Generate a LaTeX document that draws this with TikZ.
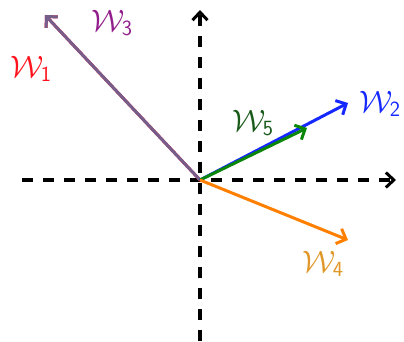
\RequirePackage{fix-cm}
\documentclass[tikz,border=0pt]{standalone}
\usetikzlibrary{arrows.meta}
\definecolor{wred}{RGB}{255,20,30}
\definecolor{wpurpleline}{RGB}{118,94,140}
\definecolor{wpurple}{RGB}{145,30,140}
\definecolor{wblue}{RGB}{20,40,255}
\definecolor{wgreen}{RGB}{10,135,10}
\definecolor{wdgreen}{RGB}{25,90,25}
\definecolor{worange}{RGB}{255,128,0}
\definecolor{wlorange}{RGB}{225,150,40}
\tikzset{
  axisline/.style={line width=3.2pt, dash pattern=on 11pt off 10pt, -{Straight Barb[length=8pt,width=15pt,line width=3pt]}},
  vec/.style={line width=3pt, -{Straight Barb[length=8pt,width=16pt]}},
  lab/.style={font=\fontsize{31}{34}\selectfont, inner sep=0pt}
}
\newcommand{\wsub}[1]{\mathcal{W}_{\scriptstyle\mathsf{#1}}}
\begin{document}
\begin{tikzpicture}[x=1pt,y=-1pt]
\useasboundingbox (0,0) rectangle (404,342);
\coordinate (O) at (200,180);
\coordinate (xl) at (22,180);
\coordinate (xr) at (396,180);
\coordinate (yb) at (200,341);
\coordinate (yt) at (200,10);
\coordinate (e1) at (45,15);
\coordinate (e2) at (348,103);
\coordinate (e5) at (307,128);
\coordinate (e4) at (348,240);
\draw[axisline] (xl) -- (xr);
\draw[axisline] (yb) -- (yt);
\draw[vec, wred] (O) -- (e1);
\draw[vec, wpurpleline] (O) -- (e1);
\draw[vec, wblue] (O) -- (e2);
\draw[vec, wgreen] (O) -- (e5);
\draw[vec, worange] (O) -- (e4);
\node[lab, text=wred] (l1) at (31,69) {$\wsub{1}$};
\node[lab, text=wpurple] (l3) at (112,23) {$\wsub{3}$};
\node[lab, text=wdgreen] (l5) at (253,123) {$\wsub{5}$};
\node[lab, text=wblue] (l2) at (380,104) {$\wsub{2}$};
\node[lab, text=wlorange] (l4) at (323,264) {$\wsub{4}$};
\end{tikzpicture}
\end{document}
